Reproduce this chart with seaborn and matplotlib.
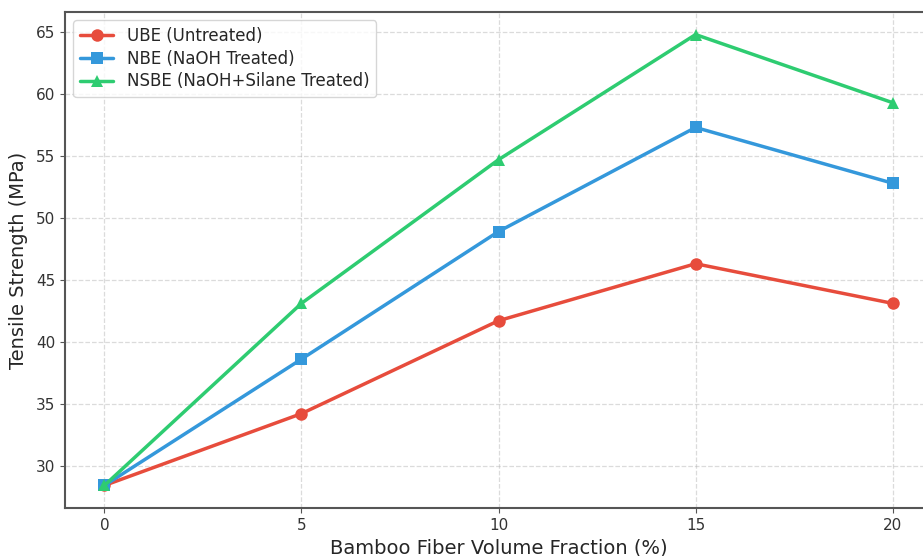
import matplotlib
matplotlib.use("Agg")
import matplotlib.pyplot as plt
import seaborn as sns
import pandas as pd

fractions = [0, 5, 10, 15, 20]
ube = [28.4, 34.2, 41.7, 46.3, 43.1]
nbe = [28.4, 38.6, 48.9, 57.3, 52.8]
nsbe = [28.4, 43.1, 54.7, 64.8, 59.3]
labels = ["UBE (Untreated)", "NBE (NaOH Treated)", "NSBE (NaOH+Silane Treated)"]
colors = ["#e74c3c", "#3498db", "#2ecc71"]
markers = ["o", "s", "^"]

rows = []
for lab, vals in zip(labels, [ube, nbe, nsbe]):
    for f, v in zip(fractions, vals):
        rows.append({"x": f, "y": v, "Series": lab})
df = pd.DataFrame(rows)

sns.set_style("ticks")
plt.rcParams['font.family'] = ['DejaVu Sans']
fig = plt.figure(figsize=(9.23, 5.56), dpi=100)
ax = fig.add_axes([0.0704, 0.0863, 0.9394, 0.8921])

sns.lineplot(data=df, x="x", y="y", hue="Series", style="Series",
             palette=dict(zip(labels, colors)), markers=dict(zip(labels, markers)),
             dashes=False, linewidth=2.5, markersize=9, markeredgewidth=0, ax=ax)

ax.grid(True, linestyle="--", color="#b0b0b0", alpha=0.45, linewidth=0.9)
ax.set_xticks(fractions)
ax.set_xlabel("Bamboo Fiber Volume Fraction (%)", fontsize=14, labelpad=4)
ax.set_ylabel("Tensile Strength (MPa)", fontsize=14, labelpad=6)
ax.tick_params(labelsize=11, color="#555555", labelcolor="#333333")
for s in ax.spines.values():
    s.set_color("#555555")
    s.set_linewidth(1.5)
leg = ax.legend(loc="upper left", fontsize=12, frameon=True, borderaxespad=0.5,
                labelspacing=0.28)
fig.savefig("out.png", dpi=100)
